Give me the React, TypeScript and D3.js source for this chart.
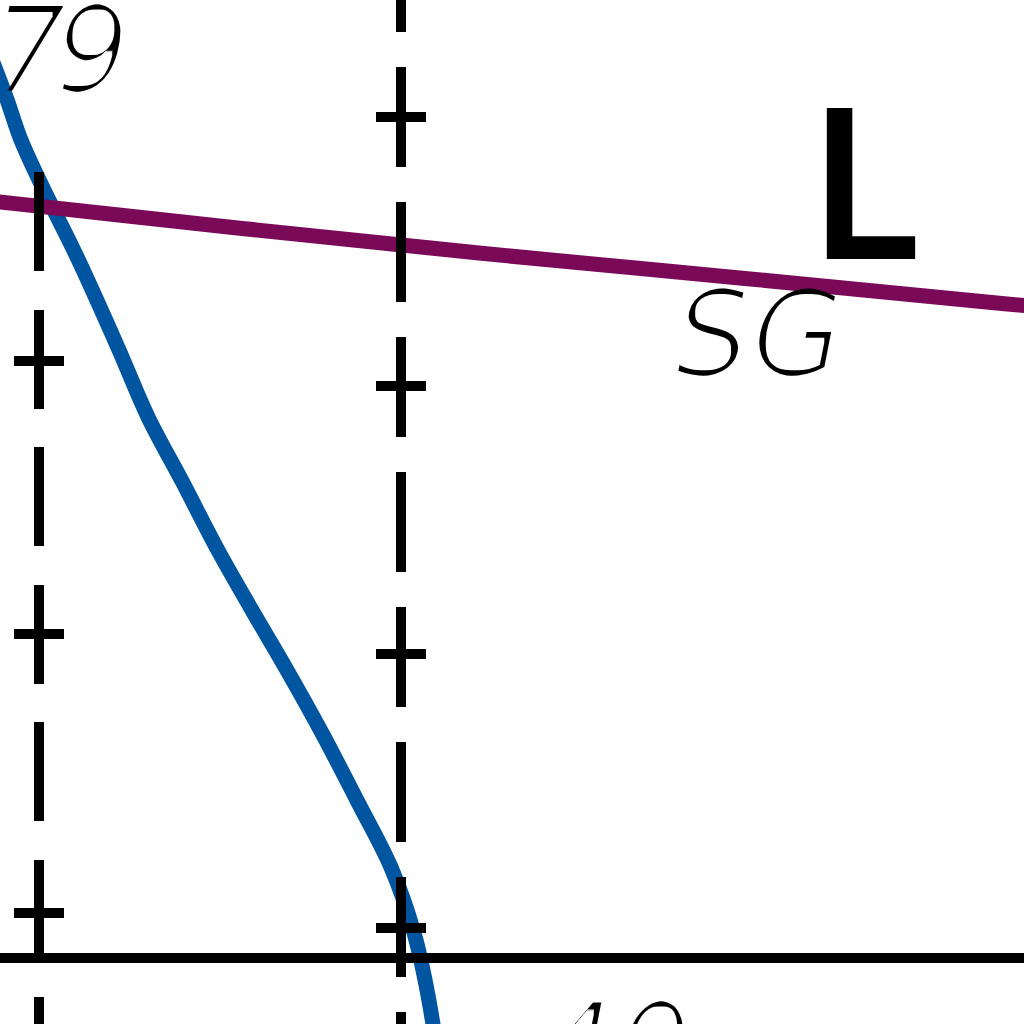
import React from "react";
import * as d3 from "d3";

// ---- data (map units: x = meridian index, y = latitude-like units from the solid parallel) ----
const meridians = [0, 1];
const meridianTop = [2.911, 3.8];
const meridianBottom = [-0.3, -0.3];
const leftTicks = [2.211, 1.2, 0.167];
const rightTicks = [3.115, 2.119, 1.126, 0.111];
const parallelLat = [0];

const blueX = [-0.13, -0.088, -0.052, 0.003, 0.097, 0.221, 0.301, 0.398, 0.494, 0.588, 0.68, 0.782, 0.878, 0.972, 1.036, 1.077, 1.091];
const blueY = [3.326, 3.178, 3.037, 2.874, 2.619, 2.252, 2.004, 1.759, 1.511, 1.289, 1.078, 0.833, 0.585, 0.337, 0.093, -0.156, -0.267];

const purpleX = [-0.135, -0.066, 0.561, 1.229, 1.95, 2.66, 2.749];
const purpleY = [2.804, 2.794, 2.702, 2.609, 2.517, 2.424, 2.413];

const labels = ["79", "SG", "L", "40"];

export default function App() {
  const W = 1024;
  const H = 1024;
  const x = d3.scaleLinear().domain([0, 1]).range([39, 401]);
  const y = d3.scaleLinear().domain([0, 1]).range([958, 688]);

  const line = d3
    .line<[number, number]>()
    .x((d) => x(d[0]))
    .y((d) => y(d[1]))
    .curve(d3.curveMonotoneY);

  const purpleLine = d3
    .line<[number, number]>()
    .x((d) => x(d[0]))
    .y((d) => y(d[1]))
    .curve(d3.curveMonotoneX);

  const bluePts: [number, number][] = blueX.map((v, i) => [v, blueY[i]]);
  const purplePts: [number, number][] = purpleX.map((v, i) => [v, purpleY[i]]);

  const tickSets = [leftTicks, rightTicks];
  const dashes = ["99 38.5", "100 35"];

  const thinText = {
    fontFamily: "'DejaVu Sans', sans-serif",
    fontStyle: "italic" as const,
    fontSize: 121,
    fill: "#000",
    filter: "url(#thin)",
  };

  return (
    <svg
      width={W}
      height={H}
      viewBox={`0 0 ${W} ${H}`}
      style={{ position: "absolute", left: 0, top: 0, display: "block", background: "#fff" }}
    >
      <defs>
        <filter id="thin" x="-20%" y="-20%" width="140%" height="140%">
          <feMorphology operator="erode" radius="3 2" />
        </filter>
      </defs>
      <rect x={0} y={0} width={W} height={H} fill="#fff" />
      <path d={line(bluePts) || ""} fill="none" stroke="#0055a0" strokeWidth={15} />
      <path d={purpleLine(purplePts) || ""} fill="none" stroke="#7a0a58" strokeWidth={15} />

      {parallelLat.map((lat, i) => (
        <line key={"p" + i} x1={0} x2={W} y1={y(lat)} y2={y(lat)} stroke="#000" strokeWidth={10} shapeRendering="crispEdges" />
      ))}

      {meridians.map((m, i) => (
        <g key={"m" + i}>
          <line
            x1={x(m)}
            x2={x(m)}
            y1={y(meridianTop[i])}
            y2={y(meridianBottom[i])}
            stroke="#000"
            strokeWidth={10}
            strokeDasharray={dashes[i]}
            shapeRendering="crispEdges"
          />
          {tickSets[i].map((t, j) => (
            <line
              key={j}
              x1={x(m) - 25}
              x2={x(m) + 25}
              y1={y(t)}
              y2={y(t)}
              stroke="#000"
              strokeWidth={10}
              shapeRendering="crispEdges"
            />
          ))}
        </g>
      ))}

      <text x={-9} y={92} letterSpacing={-14} {...thinText}>
        {labels[0]}
      </text>
      <text x={674} y={376} {...thinText}>
        {labels[1]}
      </text>
      <g transform="translate(822,259) scale(0.94,1)">
        <text x={-10} y={0} fontFamily="Inter, 'DejaVu Sans', sans-serif" fontWeight={600} fontSize={208} fill="#000">
          {labels[2]}
        </text>
      </g>
      <text x={538} y={1089} {...thinText}>
        {labels[3]}
      </text>
    </svg>
  );
}
